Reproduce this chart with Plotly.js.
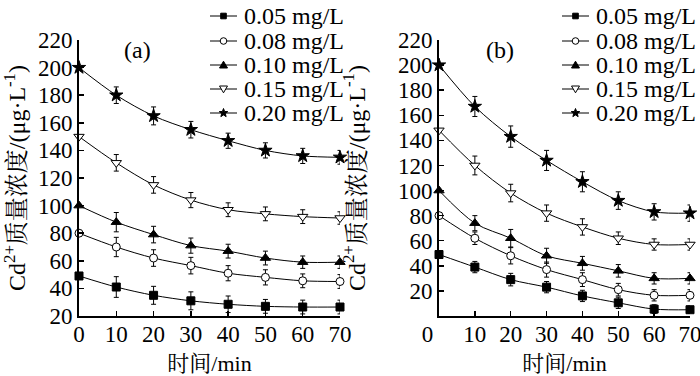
<!DOCTYPE html>
<html><head><meta charset="utf-8">
<script src="https://cdn.plot.ly/plotly-3.0.1.min.js"></script>
<style>html,body{margin:0;padding:0;background:#fff}</style>
</head><body><div id="chart" style="width:700px;height:376px"></div>
<script>
// ---- data ----
const time = [0, 10, 20, 30, 40, 50, 60, 70];
const seriesNames = ['0.05 mg/L', '0.08 mg/L', '0.10 mg/L', '0.15 mg/L', '0.20 mg/L'];

// panel (a)
const a005 = [49, 41, 35, 31, 28.5, 27, 26.5, 26.5];
const a008 = [80, 70, 62, 56.5, 51, 48, 45.5, 45];
const a010 = [100, 88, 79, 71, 67, 62, 59, 59];
const a015 = [150, 131, 115, 104, 97, 94, 92, 91];
const a020 = [200, 180, 165, 155, 147, 140, 136, 135];
const aErr005 = [0, 7.5, 6.5, 6.5, 6, 5, 5, 5];
const aErr008 = [0, 7, 6, 6, 5.5, 5.5, 5, 5];
const aErr010 = [0, 7, 6, 5.5, 5, 5, 4.5, 4.5];
const aErr015 = [0, 6, 6, 5.5, 5, 5, 5, 4.5];
const aErr020 = [0, 6, 6.5, 6, 5.5, 5.5, 5.5, 5];

// panel (b)
const b005 = [49, 39, 29, 23, 16, 10.5, 5.5, 5];
const b008 = [80, 62, 48, 37, 29, 21, 16.5, 16.5];
const b010 = [100, 74, 62, 48, 42, 36, 30, 30];
const b015 = [148, 120, 98, 82, 71, 62, 57, 57];
const b020 = [200, 167, 143, 124, 107, 92, 83, 82];
const bErr005 = [0, 4.5, 5, 4.5, 4.5, 4.5, 3.5, 3];
const bErr008 = [0, 5, 6.5, 6, 5.5, 5, 4.5, 4.5];
const bErr010 = [0, 6, 7, 6, 5.5, 5, 4.5, 4.5];
const bErr015 = [0, 7.5, 7, 6.5, 6.5, 5, 4.5, 4.5];
const bErr020 = [0, 8, 8.5, 8, 8, 7, 6.5, 6.5];

const xTicksA = [0, 10, 20, 30, 40, 50, 60, 70];
const xTicksB = [0, 10, 20, 30, 40, 50, 60, 70];
const xTickTextB = ['0\u2002\u2002', '10', '20', '30', '40', '50', '60', '70'];
const yTicksA = [20, 40, 60, 80, 100, 120, 140, 160, 180, 200, 220];
const yTicksB = [20, 40, 60, 80, 100, 120, 140, 160, 180, 200, 220];

// ---- styling ----
const FONT = 'Times New Roman, Liberation Serif, Noto Serif CJK SC, Noto Sans CJK SC, serif';
const symbols = ['square', 'circle', 'triangle-up', 'triangle-down', 'star'];
const fills = ['black', 'white', 'black', 'white', 'black'];
const sizes = [8, 8, 9, 9, 10];

const panelA = [a005, a008, a010, a015, a020];
const panelAErr = [aErr005, aErr008, aErr010, aErr015, aErr020];
const panelB = [b005, b008, b010, b015, b020];
const panelBErr = [bErr005, bErr008, bErr010, bErr015, bErr020];

const traces = [];
function addPanel(vals, errs, xa, ya) {
  vals.forEach((v, i) => {
    traces.push({
      type: 'scatter', mode: 'lines+markers',
      x: time, y: v, name: seriesNames[i], xaxis: xa, yaxis: ya,
      showlegend: false,
      line: {color: 'black', width: 1, shape: 'spline', smoothing: 0.9},
      marker: {symbol: symbols[i], size: sizes[i], color: fills[i], line: {color: 'black', width: 1}},
      error_y: {type: 'data', array: errs[i], visible: true, color: 'black', thickness: 1, width: 2.5},
      cliponaxis: false
    });
  });
}
addPanel(panelA, panelAErr, 'x', 'y');
addPanel(panelB, panelBErr, 'x2', 'y2');

const W = 700, H = 376;
const px = x => x / W, py = y => 1 - y / H;

const axisCommon = {
  showgrid: false, zeroline: false, showline: true, linecolor: 'black', linewidth: 2,
  ticks: 'inside', ticklen: 5, tickwidth: 1.5, tickcolor: 'black', ticklabeloverflow: 'allow',
  tickfont: {family: FONT, size: 23, color: 'black'}, tickmode: 'array', mirror: false
};

// custom legends (line sample + marker symbol + label)
const shapes = [], annotations = [];
function legend(x0, ys) {
  seriesNames.forEach((nm, i) => {
    const y = ys[i], xc = x0 + 13.5;
    shapes.push({type: 'line', xref: 'paper', yref: 'paper', x0: px(x0), x1: px(x0 + 27), y0: py(y), y1: py(y), line: {color: 'black', width: 1}});
    const s = symbols[i];
    const style = {xref: 'paper', yref: 'paper', fillcolor: fills[i], line: {color: 'black', width: 1}};
    if (s === 'square') {
      shapes.push(Object.assign({type: 'rect', x0: px(xc - 2.8), x1: px(xc + 2.8), y0: py(y - 2.8), y1: py(y + 2.8)}, style));
    } else if (s === 'circle') {
      shapes.push(Object.assign({type: 'circle', x0: px(xc - 3.3), x1: px(xc + 3.3), y0: py(y - 3.3), y1: py(y + 3.3)}, style));
    } else if (s === 'triangle-up' || s === 'triangle-down') {
      const d = s === 'triangle-up' ? 1 : -1;
      const pts = [[xc, y - 3.8 * d], [xc - 4, y + 3 * d], [xc + 4, y + 3 * d]];
      shapes.push(Object.assign({type: 'path', path: 'M' + pts.map(p => px(p[0]) + ',' + py(p[1])).join(' L') + ' Z'}, style));
    } else {
      const pts = [];
      for (let k = 0; k < 10; k++) {
        const r = k % 2 === 0 ? 4.5 : 1.9, a = -Math.PI / 2 + k * Math.PI / 5;
        pts.push([xc + r * Math.cos(a), y + r * Math.sin(a)]);
      }
      shapes.push(Object.assign({type: 'path', path: 'M' + pts.map(p => px(p[0]) + ',' + py(p[1])).join(' L') + ' Z'}, style));
    }
    annotations.push({xref: 'paper', yref: 'paper', x: px(x0 + 32), y: py(y), xanchor: 'left', yanchor: 'middle',
      text: nm, showarrow: false, font: {family: FONT, size: 24, color: 'black'}});
  });
}
legend(210, [16, 41, 65, 89, 113]);
legend(562, [16, 41, 65, 89, 113]);

annotations.push({xref: 'paper', yref: 'paper', x: px(137), y: py(50), xanchor: 'center', yanchor: 'middle',
  text: '(a)', showarrow: false, font: {family: FONT, size: 24, color: 'black'}});
annotations.push({xref: 'paper', yref: 'paper', x: px(500), y: py(50), xanchor: 'center', yanchor: 'middle',
  text: '(b)', showarrow: false, font: {family: FONT, size: 24, color: 'black'}});

const yTitle = 'Cd<sup>2+</sup>质量浓度/(μg·L<sup>-1</sup>)';
const layout = {
  width: W, height: H, margin: {l: 0, r: 0, t: 0, b: 0},
  paper_bgcolor: 'white', plot_bgcolor: 'white', showlegend: false,
  font: {family: FONT, color: 'black'},
  xaxis: Object.assign({}, axisCommon, {domain: [px(79), px(340)], range: [0, 70], tickvals: xTicksA, anchor: 'y',
    ticklabelstandoff: -4, title: {text: '时间/min', font: {family: FONT, size: 22}, standoff: 10}}),
  yaxis: Object.assign({}, axisCommon, {domain: [py(316), py(40)], range: [20, 220], tickvals: yTicksA, anchor: 'x',
    title: {text: yTitle, font: {family: FONT, size: 24}, standoff: 17}}),
  xaxis2: Object.assign({}, axisCommon, {domain: [px(439), px(690)], range: [0, 70], tickvals: xTicksB, ticktext: xTickTextB, anchor: 'y2',
    ticklabelstandoff: -4, title: {text: '时间/min', font: {family: FONT, size: 22}, standoff: 10}}),
  yaxis2: Object.assign({}, axisCommon, {domain: [py(316), py(40)], range: [0, 220], tickvals: yTicksB, anchor: 'x2',
    title: {text: yTitle, font: {family: FONT, size: 24}, standoff: 26}}),
  shapes: shapes, annotations: annotations
};
Plotly.newPlot('chart', traces, layout, {staticPlot: true, displayModeBar: false});
</script></body></html>
